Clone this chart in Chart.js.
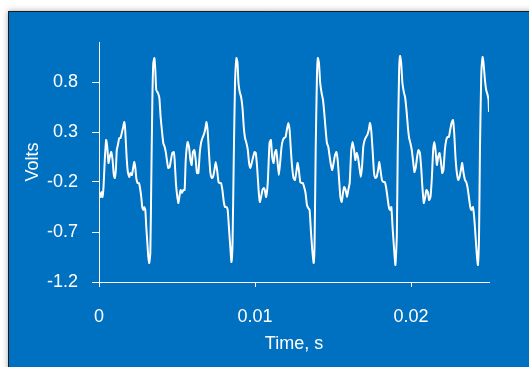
<!DOCTYPE html>
<html lang="en">
<head>
<meta charset="UTF-8">
<title>Volts vs time</title>
<style>
  body { margin: 0; background: #ffffff; }
  #wrap { width: 529px; height: 367px; }
</style>
</head>
<body>
<div id="wrap"><canvas id="waveChart" width="529" height="367"></canvas></div>
<script src="https://cdn.jsdelivr.net/npm/chart.js"></script>
<script>
// time in milliseconds
const timeMs = [
  0.00, 0.10, 0.16, 0.22, 0.29, 0.37, 0.46, 0.53, 0.61, 0.69, 0.78, 0.87, 0.95, 1.01, 1.08, 1.14, 1.21, 1.30, 1.38, 1.46,
  1.55, 1.62, 1.68, 1.77, 1.85, 1.94, 2.02, 2.11, 2.20, 2.26, 2.33, 2.39, 2.47, 2.56, 2.62, 2.71, 2.77, 2.84, 2.90, 2.97,
  3.03, 3.10, 3.16, 3.22, 3.29, 3.35, 3.42, 3.48, 3.55, 3.61, 3.67, 3.78, 3.87, 3.95, 4.03, 4.12, 4.21, 4.29, 4.38, 4.44,
  4.53, 4.61, 4.70, 4.79, 4.85, 4.93, 5.02, 5.09, 5.17, 5.23, 5.32, 5.41,
  5.49, 5.56, 5.68, 5.77, 5.86, 5.94, 6.02, 6.11, 6.20, 6.28, 6.37, 6.46, 6.54, 6.63, 6.71, 6.80, 6.89, 6.97, 7.05, 7.14,
  7.23, 7.31, 7.40, 7.48, 7.57, 7.66, 7.74, 7.82, 7.91, 8.00, 8.08, 8.17, 8.25, 8.34, 8.43, 8.49, 8.56, 8.64, 8.72, 8.81,
  8.88, 8.94, 9.02, 9.11, 9.20, 9.28, 9.36, 9.45, 9.54, 9.62, 9.71, 9.79, 9.88, 9.97, 10.05, 10.14, 10.23, 10.31, 10.39, 10.48,
  10.57, 10.63, 10.71, 10.82,
  10.93, 11.02, 11.10, 11.19, 11.27, 11.36, 11.45, 11.53, 11.61, 11.70, 11.79, 11.87, 11.96, 12.04, 12.13, 12.22, 12.30, 12.38, 12.47, 12.56,
  12.64, 12.73, 12.81, 12.90, 12.99, 13.07, 13.15, 13.24, 13.33, 13.41, 13.50, 13.58, 13.67, 13.76, 13.82, 13.89, 13.97, 14.03, 14.10, 14.18,
  14.27, 14.36, 14.44, 14.53, 14.61, 14.70, 14.79, 14.87, 14.95, 15.04, 15.13, 15.21, 15.30, 15.38, 15.47, 15.56, 15.64, 15.72, 15.81, 15.90,
  15.98, 16.07,
  16.17, 16.26, 16.35, 16.43, 16.52, 16.60, 16.69, 16.78, 16.86, 16.94, 17.03, 17.12, 17.20, 17.29, 17.37, 17.46, 17.55, 17.63, 17.71, 17.80,
  17.89, 17.97, 18.06, 18.14, 18.23, 18.32, 18.40, 18.49, 18.58, 18.66, 18.74, 18.83, 18.92, 19.00, 19.09, 19.15, 19.24, 19.30, 19.37, 19.45,
  19.54, 19.62, 19.71, 19.80, 19.88, 19.96, 20.05, 20.14, 20.22, 20.31, 20.39, 20.48, 20.57, 20.65, 20.73, 20.82, 20.91, 20.99, 21.08, 21.16,
  21.25, 21.34,
  21.42, 21.50, 21.57, 21.66, 21.74, 21.83, 21.92, 22.00, 22.08, 22.17, 22.26, 22.34, 22.43, 22.51, 22.60, 22.69, 22.77, 22.85, 22.94, 23.03,
  23.11, 23.20, 23.28, 23.37, 23.46, 23.54, 23.62, 23.71, 23.80, 23.88, 23.97, 24.05, 24.14, 24.23, 24.29, 24.36, 24.42, 24.50, 24.59, 24.65,
  24.74, 24.82, 24.91, 24.97, 25.00
];

const volts = [
  -0.30, -0.35, -0.30, -0.35, -0.25, 0.02, 0.22, 0.15, -0.01, 0.05, 0.10, 0.02, -0.13, -0.16, -0.08, 0.12, 0.17, 0.24, 0.24, 0.29,
  0.35, 0.40, 0.32, 0.05, -0.10, -0.15, -0.11, -0.13, -0.05, 0.00, -0.06, -0.16, -0.21, -0.21, -0.25, -0.35, -0.45, -0.48, -0.45, -0.48,
  -0.65, -0.81, -0.95, -1.01, -0.91, -0.21, 0.62, 0.99, 1.04, 0.92, 0.72, 0.69, 0.64, 0.45, 0.32, 0.19, 0.15, 0.09, -0.01, -0.06,
  -0.05, 0.02, 0.09, 0.10, 0.02, -0.21, -0.35, -0.41, -0.33, -0.28, -0.31, -0.28,
  -0.28, 0.02, 0.20, 0.15, 0.02, -0.03, 0.10, 0.12, 0.02, -0.11, -0.11, 0.09, 0.19, 0.24, 0.27, 0.32, 0.40, 0.30, 0.09, -0.11,
  -0.16, -0.15, -0.08, 0.00, -0.08, -0.20, -0.21, -0.21, -0.28, -0.40, -0.45, -0.45, -0.48, -0.68, -0.88, -1.00, -0.81, 0.05, 0.79, 1.04,
  0.99, 0.79, 0.70, 0.65, 0.54, 0.35, 0.24, 0.19, 0.12, -0.01, -0.06, -0.01, 0.05, 0.10, 0.09, -0.06, -0.28, -0.40, -0.35, -0.28,
  -0.26, -0.28, -0.35, -0.20,
  0.19, 0.22, 0.05, -0.01, 0.09, 0.12, -0.01, -0.13, -0.01, 0.15, 0.22, 0.24, 0.25, 0.32, 0.39, 0.32, 0.12, -0.05, -0.16, -0.18,
  -0.11, -0.01, -0.08, -0.20, -0.21, -0.21, -0.25, -0.31, -0.43, -0.46, -0.48, -0.68, -0.88, -1.01, -0.81, 0.12, 0.85, 1.04, 0.99, 0.79,
  0.69, 0.62, 0.49, 0.32, 0.19, 0.15, 0.05, -0.03, -0.08, -0.01, 0.07, 0.10, 0.02, -0.15, -0.35, -0.40, -0.31, -0.25, -0.28, -0.35,
  -0.28, -0.21,
  0.12, 0.20, 0.12, 0.02, 0.09, 0.05, -0.05, -0.15, -0.05, 0.15, 0.22, 0.25, 0.27, 0.32, 0.39, 0.30, 0.09, -0.11, -0.16, -0.15,
  -0.08, 0.00, -0.10, -0.18, -0.20, -0.20, -0.25, -0.35, -0.45, -0.48, -0.45, -0.68, -0.88, -1.03, -0.75, 0.12, 0.92, 1.06, 0.99, 0.79,
  0.70, 0.65, 0.52, 0.35, 0.24, 0.19, 0.12, 0.00, -0.10, -0.05, 0.05, 0.12, 0.09, -0.05, -0.25, -0.41, -0.35, -0.28, -0.30, -0.38,
  -0.35, -0.15,
  0.12, 0.20, 0.12, -0.03, 0.05, 0.09, 0.00, -0.11, -0.08, 0.12, 0.22, 0.25, 0.25, 0.32, 0.39, 0.42, 0.29, 0.05, -0.11, -0.18,
  -0.15, -0.08, -0.01, -0.11, -0.18, -0.20, -0.25, -0.35, -0.45, -0.48, -0.45, -0.55, -0.75, -0.95, -1.03, -0.75, 0.12, 0.85, 1.05, 0.99,
  0.82, 0.72, 0.67, 0.62, 0.50
];

const voltTicks = [-1.2, -0.7, -0.2, 0.3, 0.8];
const timeTicks = [0, 0.01, 0.02];

const points = timeMs.map((t, i) => ({ x: t / 1000, y: volts[i] }));

const fontFamily = "'Liberation Sans', Arial, sans-serif";

// blue panel with dark edge, like the exported chart frame
const panelBackground = {
    id: 'panelBackground',
    beforeDraw(chart) {
        const ctx = chart.ctx;
        ctx.save();
        ctx.fillStyle = '#ffffff';
        ctx.fillRect(0, 0, chart.width, chart.height);
        ctx.shadowColor = 'rgba(0, 0, 0, 0.35)';
        ctx.shadowBlur = 6;
        ctx.fillStyle = '#0070c0';
        ctx.fillRect(8, 11, chart.width + 20, chart.height + 20);
        ctx.shadowColor = 'transparent';
        ctx.strokeStyle = '#1b1b1b';
        ctx.lineWidth = 1;
        ctx.beginPath();
        ctx.moveTo(8.5, chart.height);
        ctx.lineTo(8.5, 11.5);
        ctx.lineTo(chart.width, 11.5);
        ctx.stroke();
        ctx.restore();
    }
};

const ctx = document.getElementById('waveChart').getContext('2d');
new Chart(ctx, {
    type: 'line',
    data: {
        datasets: [{
            data: points,
            borderColor: '#ffffff',
            borderWidth: 2,
            pointRadius: 0,
            tension: 0.15,
            fill: false
        }]
    },
    options: {
        responsive: false,
        animation: false,
        layout: { padding: { top: 42, right: 40, left: 0, bottom: 0 } },
        plugins: {
            legend: { display: false },
            tooltip: { enabled: false }
        },
        scales: {
            x: {
                type: 'linear',
                min: 0,
                max: 0.025,
                afterBuildTicks: s => { s.ticks = timeTicks.map(v => ({ value: v })); },
                afterFit: s => { s.height = 85; },
                ticks: {
                    color: '#ffffff',
                    font: { family: fontFamily, size: 18 },
                    padding: 19,
                    maxRotation: 0,
                    autoSkip: false,
                    callback: v => String(v)
                },
                grid: { drawOnChartArea: false, color: '#ffffff', tickLength: 5 },
                border: { color: '#ffffff', width: 1 },
                title: {
                    display: true,
                    text: 'Time, s',
                    color: '#ffffff',
                    font: { family: fontFamily, size: 18 },
                    padding: { top: 0, bottom: 12 }
                }
            },
            y: {
                type: 'linear',
                min: -1.2,
                max: 1.2,
                afterBuildTicks: s => { s.ticks = voltTicks.map(v => ({ value: v })); },
                afterFit: s => { s.width = 99; },
                ticks: {
                    color: '#ffffff',
                    font: { family: fontFamily, size: 18 },
                    padding: 14,
                    autoSkip: false,
                    callback: v => String(v)
                },
                grid: { drawOnChartArea: false, color: '#ffffff', tickLength: 7 },
                border: { color: '#ffffff', width: 1 },
                title: {
                    display: true,
                    text: 'Volts',
                    color: '#ffffff',
                    font: { family: fontFamily, size: 18 },
                    padding: { top: 22, bottom: 0 }
                }
            }
        }
    },
    plugins: [panelBackground]
});
</script>
</body>
</html>
